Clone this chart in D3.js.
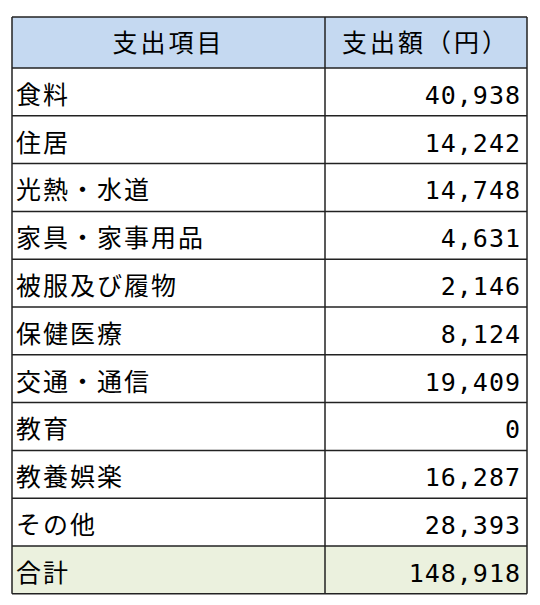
<!DOCTYPE html>
<html>
<head>
<meta charset="utf-8">
<script src="https://cdnjs.cloudflare.com/ajax/libs/d3/7.8.5/d3.min.js"></script>
<style>body{margin:0;background:#fff}</style>
</head>
<body>
<div id="chart"></div>
<script>
const headers = ["支出項目", "支出額（円）"];
const items = ["食料", "住居", "光熱・水道", "家具・家事用品", "被服及び履物", "保健医療", "交通・通信", "教育", "教養娯楽", "その他"];
const amounts = [40938, 14242, 14748, 4631, 2146, 8124, 19409, 0, 16287, 28393];
const totalLabel = "合計";
const total = 148918;

const x0 = 12, xMid = 325, x1 = 527, y0 = 17, headH = 51, rowH = 47.8;
const rows = items.map((d, i) => ({ name: d, value: amounts[i], fill: "#fff" }));
rows.push({ name: totalLabel, value: total, fill: "#ebf1de" });

const svg = d3.select("#chart").append("svg").attr("width", 540).attr("height", 605);
const y = d3.scaleLinear().domain([0, rows.length]).range([y0 + headH, y0 + headH + rowH * rows.length]);
const fmt = d3.format(",");
const jp = "'Noto Sans CJK JP', sans-serif";

svg.append("rect").attr("x", x0).attr("y", y0).attr("width", x1 - x0).attr("height", headH).attr("fill", "#c5d9f1");
svg.selectAll("text.h").data(headers).join("text")
  .attr("x", (d, i) => i === 0 ? (x0 + xMid) / 2 : (xMid + x1) / 2)
  .attr("y", y0 + headH / 2 + 9)
  .attr("text-anchor", "middle").attr("font-family", jp).attr("font-size", 25).attr("letter-spacing", 3)
  .text(d => d);

const g = svg.selectAll("g.row").data(rows).join("g").attr("transform", (d, i) => `translate(0,${y(i)})`);
g.append("rect").attr("x", x0).attr("width", x1 - x0).attr("height", rowH).attr("fill", d => d.fill);
g.append("text").attr("x", x0 + 4).attr("y", rowH - 12)
  .attr("font-family", jp).attr("font-size", 25).attr("letter-spacing", 2).text(d => d.name);
g.append("text").attr("x", x1 - 6).attr("y", rowH - 12).attr("text-anchor", "end")
  .attr("font-family", "'DejaVu Sans Mono', monospace").attr("font-size", 25).attr("letter-spacing", 1)
  .text(d => fmt(d.value));

// grid lines
for (let i = 0; i <= rows.length; i++) {
  svg.append("line").attr("x1", x0).attr("x2", x1).attr("y1", y(i)).attr("y2", y(i)).attr("stroke", "#222").attr("stroke-width", 1.5);
}
svg.append("line").attr("x1", x0).attr("x2", x1).attr("y1", y0).attr("y2", y0).attr("stroke", "#222").attr("stroke-width", 1.5);
[x0, xMid, x1].forEach(x => svg.append("line").attr("x1", x).attr("x2", x).attr("y1", y0).attr("y2", y(rows.length)).attr("stroke", "#222").attr("stroke-width", 1.5));
</script>
</body>
</html>
